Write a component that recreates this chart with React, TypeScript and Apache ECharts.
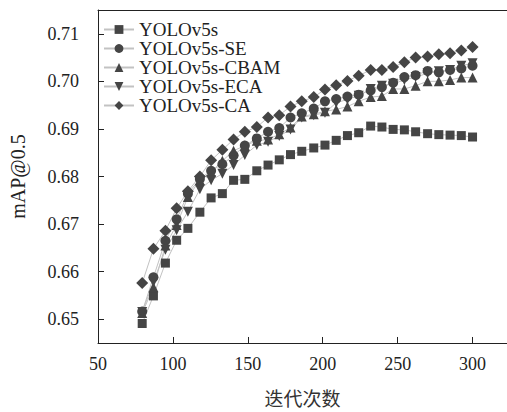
import React, { useEffect, useRef } from "react";
import * as echarts from "echarts";

const xValues = [79.5, 87, 95, 102.5, 110, 118, 125.5, 133, 140.5, 148, 156, 163.5, 171, 178.5, 186, 194, 201.5, 209, 216.5, 224, 232, 239.5, 247, 254.5, 262, 270, 277.5, 285, 292.5, 300];

const yolov5s = [0.6491, 0.6549, 0.6618, 0.6666, 0.6691, 0.6725, 0.6755, 0.6764, 0.6792, 0.6794, 0.6812, 0.6824, 0.6835, 0.6846, 0.6853, 0.686, 0.6866, 0.6876, 0.6886, 0.6892, 0.6906, 0.6904, 0.6899, 0.6898, 0.6894, 0.689, 0.6888, 0.6887, 0.6886, 0.6883];
const yolov5sSE = [0.6516, 0.6588, 0.6665, 0.671, 0.6764, 0.6795, 0.6812, 0.6826, 0.6844, 0.6865, 0.688, 0.6894, 0.6902, 0.6924, 0.6933, 0.6943, 0.6958, 0.6963, 0.6968, 0.6972, 0.6981, 0.6988, 0.6997, 0.7009, 0.7013, 0.7022, 0.7019, 0.7024, 0.7027, 0.7033];
const yolov5sCBAM = [0.6513, 0.6567, 0.6655, 0.6698, 0.6757, 0.6792, 0.6809, 0.6833, 0.6854, 0.6865, 0.6875, 0.6878, 0.6889, 0.6903, 0.6926, 0.6931, 0.6937, 0.6941, 0.6947, 0.6958, 0.6967, 0.6969, 0.6984, 0.6984, 0.6991, 0.7, 0.7, 0.7003, 0.7008, 0.7008];
const yolov5sECA = [0.6515, 0.6578, 0.6646, 0.6687, 0.6726, 0.6773, 0.6792, 0.6806, 0.6824, 0.6845, 0.6866, 0.6873, 0.6885, 0.6899, 0.6924, 0.6929, 0.6934, 0.6955, 0.6962, 0.697, 0.6984, 0.6991, 0.6995, 0.7003, 0.7009, 0.7017, 0.7021, 0.7024, 0.7033, 0.7038];
const yolov5sCA = [0.6576, 0.6648, 0.6686, 0.6733, 0.6769, 0.68, 0.6834, 0.6856, 0.6878, 0.6894, 0.6904, 0.6924, 0.6929, 0.6947, 0.6958, 0.6967, 0.6983, 0.6992, 0.7001, 0.7012, 0.7024, 0.7024, 0.703, 0.704, 0.705, 0.7052, 0.7057, 0.7059, 0.7065, 0.7072];

const xTicks = [50, 100, 150, 200, 250, 300];
const yTicks = [0.65, 0.66, 0.67, 0.68, 0.69, 0.7, 0.71];

const seriesDefs = [
  { name: "YOLOv5s", data: yolov5s, symbol: "rect", size: 9, rotate: 0 },
  { name: "YOLOv5s-SE", data: yolov5sSE, symbol: "circle", size: 10, rotate: 0 },
  { name: "YOLOv5s-CBAM", data: yolov5sCBAM, symbol: "triangle", size: 10, rotate: 0 },
  { name: "YOLOv5s-ECA", data: yolov5sECA, symbol: "triangle", size: 10, rotate: 180 },
  { name: "YOLOv5s-CA", data: yolov5sCA, symbol: "diamond", size: 12, rotate: 0 },
];

const SERIF = "Liberation Serif, Noto Sans CJK SC, serif";
const CJK = "Noto Sans CJK SC, sans-serif";
const MARK = "#454545";
const LINE = "#c2c2c2";
const AXIS = "#222";

export default function App() {
  const ref = useRef<HTMLDivElement>(null);
  useEffect(() => {
    if (!ref.current) return;
    const chart = echarts.init(ref.current, undefined, { renderer: "svg" });
    chart.setOption({
      animation: false,
      backgroundColor: "#fff",
      textStyle: { fontFamily: SERIF },
      grid: { left: 95, top: 10, right: 0, bottom: 67 },
      legend: {
        left: 98,
        top: 15,
        orient: "vertical",
        itemWidth: 30,
        itemHeight: 11,
        itemGap: 0,
        textStyle: { fontFamily: SERIF, fontSize: 19, color: AXIS, lineHeight: 17, height: 17 },
        data: seriesDefs.map((s) => s.name),
      },
      xAxis: [
        {
          type: "value",
          min: 50,
          max: 323,
          name: "迭代次数",
          nameLocation: "middle",
          nameGap: 45,
          nameTextStyle: { fontFamily: CJK, fontSize: 19, color: "#333" },
          axisLine: { show: true, lineStyle: { color: AXIS, width: 1 } },
          axisTick: { show: true, inside: true, length: 6, lineStyle: { color: AXIS }, customValues: xTicks },
          axisLabel: { fontFamily: SERIF, fontSize: 18, color: AXIS, margin: 12, customValues: xTicks },
          splitLine: { show: false },
        },
        {
          type: "value",
          position: "top",
          min: 50,
          max: 323,
          axisLine: { show: true, onZero: false, lineStyle: { color: AXIS, width: 1 } },
          axisTick: { show: false },
          axisLabel: { show: false },
          splitLine: { show: false },
        },
      ],
      yAxis: {
        type: "value",
        min: 0.645,
        max: 0.715,
        name: "mAP@0.5",
        nameLocation: "middle",
        nameGap: 70,
        nameTextStyle: { fontFamily: SERIF, fontSize: 20, color: AXIS },
        axisLine: { show: true, onZero: false, lineStyle: { color: AXIS, width: 1 } },
        axisTick: { show: true, inside: true, length: 6, lineStyle: { color: AXIS }, customValues: yTicks },
        axisLabel: {
          fontFamily: SERIF,
          fontSize: 18,
          color: AXIS,
          margin: 19,
          customValues: yTicks,
          formatter: (v: number) => v.toFixed(2),
        },
        splitLine: { show: false },
      },
      series: seriesDefs.map((s) => ({
        name: s.name,
        type: "line",
        xAxisIndex: 0,
        data: s.data.map((v, i) => [xValues[i], v]),
        symbol: s.symbol,
        symbolSize: s.size,
        symbolRotate: s.rotate,
        showAllSymbol: true,
        lineStyle: { color: LINE, width: 1 },
        itemStyle: { color: MARK },
        emphasis: { disabled: true },
      })),
    });
    return () => chart.dispose();
  }, []);
  return <div ref={ref} style={{ position: "fixed", left: 0, top: 0, width: 507, height: 412 }} />;
}
